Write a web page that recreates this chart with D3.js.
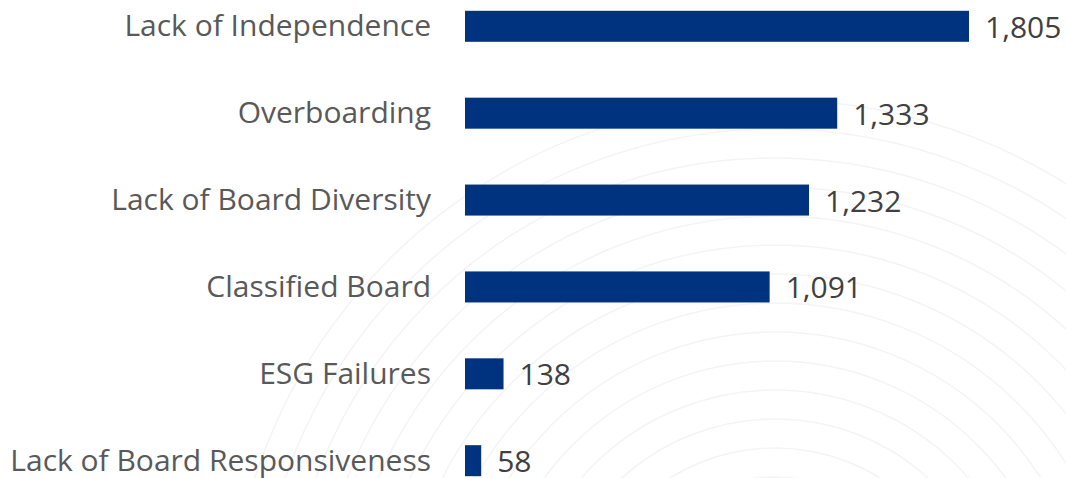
<!DOCTYPE html>
<html><head><meta charset="utf-8">
<script src="https://cdn.jsdelivr.net/npm/d3@7"></script>
<style>html,body{margin:0;padding:0;background:#fff;}svg{display:block;}</style>
</head><body>
<svg id="chart" width="1066" height="478"></svg>
<script>
const categories = ["Lack of Independence","Overboarding","Lack of Board Diversity","Classified Board","ESG Failures","Lack of Board Responsiveness"];
const values = [1805,1333,1232,1091,138,58];

const W = 1066, H = 478;
const svg = d3.select("#chart");
const fontFam = "'Open Sans', 'Noto Sans', sans-serif";

// faint decorative background arcs
const bg = svg.append("g");
const radii = d3.range(0, 14).map(i => 170 + i * 29);
bg.selectAll("circle").data(radii).join("circle")
  .attr("cx", 775).attr("cy", 477 + 170).attr("r", d => d)
  .attr("fill", "none").attr("stroke", "#f4f4f4").attr("stroke-width", 1.5);

const x = d3.scaleLinear().domain([0, 1805]).range([465, 969]);
const y = d3.scaleBand().domain(categories).range([-17, 504]).paddingInner(0.643).paddingOuter(0.32);

const g = svg.append("g");
g.selectAll("rect.bar").data(values).join("rect")
  .attr("class","bar")
  .attr("x", x(0))
  .attr("y", (d,i) => y(categories[i]))
  .attr("width", d => x(d) - x(0))
  .attr("height", y.bandwidth())
  .attr("fill", "#00337f");

const yAxis = d3.axisLeft(y).tickSize(0).tickPadding(0);
const ax = svg.append("g").attr("transform", `translate(${x(0) - 34},0)`).call(yAxis);
ax.select(".domain").remove();
ax.selectAll("text").attr("fill", "#595959").style("font-family", fontFam).style("font-size", "30px").attr("dy", "0.33em");

g.selectAll("text.val").data(values).join("text")
  .attr("class","val")
  .attr("x", d => x(d) + 16)
  .attr("y", (d,i) => y(categories[i]) + y.bandwidth()/2 + 1)
  .attr("dy", "0.35em")
  .attr("fill", "#404040")
  .style("font-family", fontFam).style("font-size", "30px")
  .text(d => d3.format(",")(d));
</script>
</body></html>
